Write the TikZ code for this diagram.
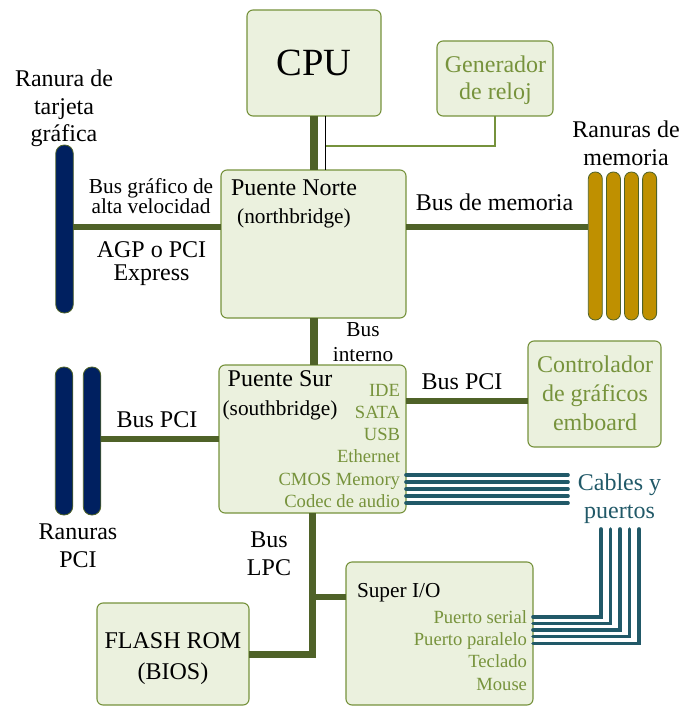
\documentclass[tikz,border=0pt]{standalone}
\usepackage{fontspec}
\setmainfont{Liberation Serif}
\usetikzlibrary{calc}

\definecolor{boxfill}{HTML}{EBF1DE}
\definecolor{boxline}{HTML}{76923C}
\definecolor{busgreen}{HTML}{4F6228}
\definecolor{slotnavy}{HTML}{002060}
\definecolor{slotgold}{HTML}{BF9000}
\definecolor{cableteal}{HTML}{215968}
\definecolor{txtgreen}{HTML}{77933C}

% Multi-line labels are anchored at the baseline of their last line.
\tikzset{
  box/.style={draw=boxline, fill=boxfill, line width=1.1pt, rounded corners=6pt,
    inner sep=0pt, outer sep=0pt},
  navyslot/.style={draw=busgreen, fill=slotnavy, line width=0.8pt, rounded corners=8.5pt,
    inner sep=0pt, outer sep=0pt, minimum width=17.5pt},
  goldslot/.style={draw=busgreen, fill=slotgold, line width=0.8pt, rounded corners=6.8pt,
    inner sep=0pt, outer sep=0pt, minimum width=14pt, minimum height=148pt},
  bus/.style={draw=busgreen, line width=6pt},
  cable/.style={draw=cableteal, line width=3.6pt, line cap=round},
  lbl/.style={inner sep=0pt, outer sep=0pt, align=center, anchor=base,
    font=\fontsize{24}{28}\selectfont},
  midlbl/.style={lbl, font=\fontsize{21.3}{25}\selectfont},
  smalllist/.style={inner sep=0pt, outer sep=0pt, align=right, anchor=base east,
    text=txtgreen, font=\fontsize{18.6}{22.3}\selectfont},
}

\begin{document}
\begin{tikzpicture}[x=1pt, y=-1pt]
\useasboundingbox (0,0) rectangle (683,706);

% --- chips -------------------------------------------------------------
\node[box, minimum width=134pt, minimum height=106pt, font=\fontsize{38.5}{40}\selectfont]
  (cpu) at (314,63) {CPU};
\node[box, minimum width=116pt, minimum height=75pt] (clk) at (495,78.5) {};
\node[box, minimum width=185pt, minimum height=148pt] (nb) at (313.5,244) {};
\node[box, minimum width=187pt, minimum height=148pt] (sb) at (312.5,439) {};
\node[box, minimum width=133pt, minimum height=106pt] (ctrl) at (594.5,394) {};
\node[box, minimum width=187pt, minimum height=143pt] (sio) at (439.5,633.5) {};
\node[box, minimum width=152pt, minimum height=102pt] (flash) at (173,654) {};

% --- slots -------------------------------------------------------------
\node[navyslot, minimum height=168pt] (agp) at (64.5,229) {};
\node[navyslot, minimum height=148pt] (pci1) at (64,441) {};
\node[navyslot, minimum height=148pt] (pci2) at (92,441) {};
\foreach \i/\x in {1/595.3,2/613.4,3/631.5,4/649.6}
  \node[goldslot] (mem\i) at (\x,246) {};

% --- buses -------------------------------------------------------------
\draw[bus, line width=8.5pt] (cpu.south) -- (cpu.south |- nb.north);
\draw[black, line width=1.2pt] ([xshift=11.5pt]cpu.south) coordinate (fsb)
  -- (fsb |- nb.north);
\coordinate (tap) at (325.5,146);
\draw[boxline, line width=1.1pt] (clk.south) |- (tap);

\draw[bus] ([yshift=17pt]nb.west) coordinate (agpin) -- (agpin -| agp.east);
\draw[bus] ([yshift=17pt]nb.east) coordinate (memout) -- (memout -| mem1.west);
\draw[bus, line width=8pt] (nb.south) -- (nb.south |- sb.north);
\draw[bus] (sb.west) -- (sb.west -| pci2.east);
\draw[bus] ([yshift=-7pt]ctrl.west) coordinate (ctrlin) -- (ctrlin -| sb.east);
\draw[bus, line width=7pt] (sb.south) |- (flash.east);
\draw[bus] ([yshift=36.5pt]sio.west) coordinate (sioin) -- (sioin -| sb.south);

% --- cables and ports --------------------------------------------------
\coordinate (cabR) at (568,489);
\coordinate (cabT) at (620,529);
\foreach \d in {-14,-7,0,7,14}
  \draw[cable] ($(sb.east |- cabR)+(0,\d)$) -- ($(cabR)+(0,\d)$);
\foreach \i in {0,...,4}
  \draw[cable] ($(sio.east)+(0,{-16.8+6.65*\i})$) -| ($(cabT)+({-19+9.5*\i},0)$);

% --- labels ------------------------------------------------------------
\node[lbl, text=txtgreen] (clktxt) at (495.5,100) {Generador\\de reloj};
\node[lbl, font=\fontsize{24}{27.5}\selectfont] (agptitle) at (64,142) {Ranura de\\tarjeta\\gráfica};
\node[midlbl, font=\fontsize{21.3}{20}\selectfont] (agpbus) at (151,213) {Bus gráfico de\\alta velocidad};
\node[lbl, font=\fontsize{24}{23}\selectfont] (agpkind) at (151.5,280) {AGP o PCI\\Express};
\node[lbl] (nbname) at (294,195) {Puente Norte};
\node[midlbl] (nbsub) at (294,223) {(northbridge)};
\node[lbl] (membus) at (494.5,210) {Bus de memoria};
\node[lbl] (memtitle) at (626,165) {Ranuras de\\memoria};
\node[midlbl] (intbus) at (363,361) {Bus\\interno};
\node[lbl] (sbname) at (280,386) {Puente Sur};
\node[midlbl] (sbsub) at (280,415) {(southbridge)};
\node[smalllist] (sblist) at (400,507.5) {IDE\\SATA\\USB\\Ethernet\\CMOS Memory\\Codec de audio};
\node[lbl] (pcibusR) at (462,389) {Bus PCI};
\node[lbl, text=txtgreen, font=\fontsize{24}{29}\selectfont] (ctrltxt) at (595,430) {Controlador\\de gráficos\\emboard};
\node[lbl] (pcibusL) at (157,427) {Bus PCI};
\node[lbl] (pcititle) at (78,567) {Ranuras\\PCI};
\node[lbl, text=cableteal] (cabtxt) at (619.5,518) {Cables y\\puertos};
\node[lbl] (lpcbus) at (269,575) {Bus\\LPC};
\node[lbl, font=\fontsize{24}{31}\selectfont] (flashtxt) at (173,679) {FLASH ROM\\(BIOS)};
\node[midlbl, anchor=base west] (sioname) at (357,597) {Super I/O};
\node[smalllist] (siolist) at (527,690) {Puerto serial\\Puerto paralelo\\Teclado\\Mouse};
\end{tikzpicture}
\end{document}
